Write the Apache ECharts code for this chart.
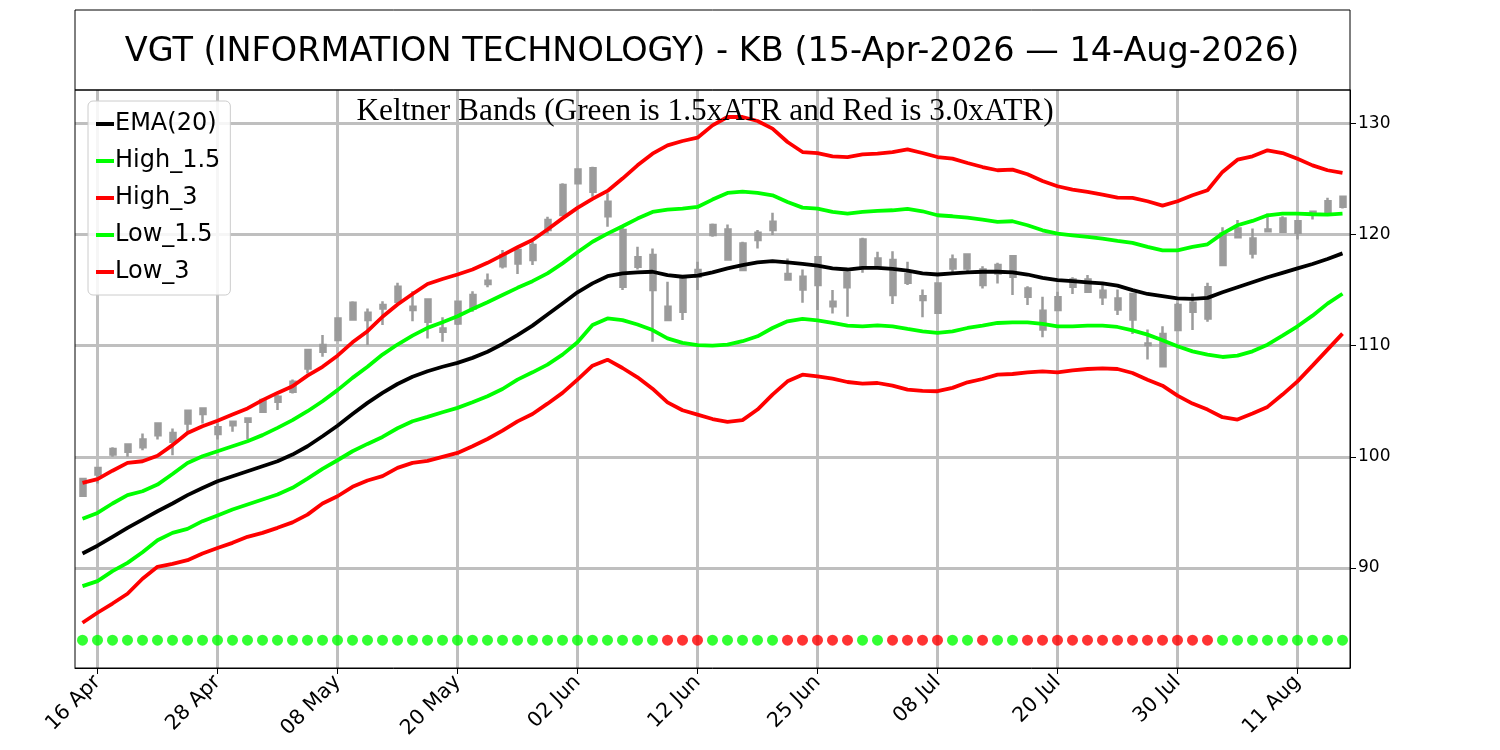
<!DOCTYPE html>
<html>
<head>
<meta charset="utf-8">
<title>VGT Keltner Bands</title>
<script src="https://cdn.jsdelivr.net/npm/echarts@6/dist/echarts.min.js"></script>
<style>
  html, body { margin: 0; padding: 0; background: #fff; }
  #chart { width: 1500px; height: 750px; }
</style>
</head>
<body>
<div id="chart"></div>
<script>
// trading days 15-Apr-2026 .. 14-Aug-2026
const categories = [
  "15 Apr", "16 Apr", "17 Apr", "20 Apr", "21 Apr", "22 Apr", "23 Apr", "24 Apr", "27 Apr", "28 Apr", "29 Apr", "30 Apr",
  "01 May", "04 May", "05 May", "06 May", "07 May", "08 May", "11 May", "12 May", "13 May", "14 May", "15 May", "18 May",
  "19 May", "20 May", "21 May", "22 May", "26 May", "27 May", "28 May", "29 May",
  "01 Jun", "02 Jun", "03 Jun", "04 Jun", "05 Jun", "08 Jun", "09 Jun", "10 Jun", "11 Jun", "12 Jun", "15 Jun", "16 Jun",
  "17 Jun", "18 Jun", "22 Jun", "23 Jun", "24 Jun", "25 Jun", "26 Jun", "29 Jun", "30 Jun",
  "01 Jul", "02 Jul", "06 Jul", "07 Jul", "08 Jul", "09 Jul", "10 Jul", "13 Jul", "14 Jul", "15 Jul", "16 Jul", "17 Jul",
  "20 Jul", "21 Jul", "22 Jul", "23 Jul", "24 Jul", "27 Jul", "28 Jul", "29 Jul", "30 Jul", "31 Jul",
  "03 Aug", "04 Aug", "05 Aug", "06 Aug", "07 Aug", "10 Aug", "11 Aug", "12 Aug", "13 Aug", "14 Aug"
];

const opens = [
  96.5, 98.4, 100.2, 100.45, 100.85, 101.95, 102.15, 103.0, 103.85, 102.65,
  102.85, 103.15, 104.05, 104.95, 105.85, 107.95, 109.45, 110.5, 112.35, 112.95,
  113.35, 113.95, 113.5, 114.15, 111.55, 112.0, 113.35, 115.55, 117.15, 117.4,
  117.7, 120.4, 121.75, 124.6, 125.95, 122.95, 120.4, 117.1, 118.15, 113.5,
  113.05, 116.2, 119.95, 120.45, 119.2, 119.5, 120.4, 116.45, 116.2, 115.45,
  113.95, 115.25, 117.1, 117.85, 117.7, 115.65, 114.45, 112.95, 116.95, 116.95,
  116.85, 116.5, 118.05, 115.15, 113.15, 113.2, 115.3, 115.95, 114.95, 114.25,
  114.65, 110.2, 111.05, 111.4, 113.05, 115.25, 117.25, 119.75, 119.65, 120.3,
  120.25, 121.2, 121.9, 121.9, 122.5
];
const closes = [
  98.0, 99.0, 100.7, 101.1, 101.55, 103.0, 101.35, 104.15, 104.35, 102.05,
  103.15, 103.45, 105.1, 105.4, 106.75, 109.6, 110.05, 112.45, 113.85, 112.3,
  113.65, 115.3, 113.2, 112.15, 111.25, 113.95, 114.55, 115.85, 118.15, 118.6,
  119.05, 121.3, 124.45, 125.85, 123.85, 121.65, 115.3, 117.95, 115.0, 112.3,
  116.2, 116.8, 120.85, 117.75, 116.8, 120.15, 121.15, 115.95, 115.05, 117.95,
  113.55, 116.55, 119.55, 117.15, 114.55, 116.45, 114.1, 115.6, 117.75, 118.2,
  115.45, 117.25, 116.2, 114.4, 111.45, 114.35, 115.95, 114.85, 114.35, 113.25,
  112.35, 110.05, 108.15, 113.65, 113.85, 112.45, 120.1, 120.55, 118.3, 120.45,
  121.45, 120.15, 122.05, 123.0, 123.4
];
const lows = [
  96.4, 97.6, 100.0, 100.0, 100.6, 101.55, 100.15, 102.15, 103.0, 101.55,
  102.25, 101.55, 104.05, 104.2, 105.7, 107.5, 109.0, 110.5, 112.3, 110.05,
  111.85, 113.7, 112.2, 110.65, 110.35, 111.85, 113.05, 115.25, 116.95, 116.45,
  117.25, 120.1, 121.75, 124.6, 123.4, 120.7, 115.0, 116.85, 110.35, 112.3,
  112.3, 115.0, 119.8, 117.75, 116.8, 118.75, 119.95, 115.9, 113.85, 113.2,
  112.9, 112.6, 116.55, 116.95, 113.75, 115.45, 112.55, 112.95, 116.45, 116.5,
  115.15, 115.6, 114.55, 113.65, 110.75, 113.15, 114.65, 114.75, 113.65, 112.75,
  111.05, 108.75, 108.15, 111.4, 111.4, 112.15, 117.25, 119.75, 117.85, 120.25,
  120.25, 119.55, 121.35, 121.9, 122.35
];
const highs = [
  98.1, 99.1, 100.85, 101.1, 102.1, 103.0, 102.55, 104.15, 104.35, 103.0,
  103.15, 103.45, 105.1, 105.55, 106.95, 109.6, 110.95, 112.45, 114.0, 113.35,
  114.0, 115.65, 114.9, 114.15, 112.55, 113.95, 114.9, 116.5, 118.6, 118.75,
  119.35, 121.6, 124.6, 125.85, 126.1, 123.7, 120.75, 118.9, 118.75, 115.75,
  116.2, 117.55, 121.0, 120.9, 119.35, 120.4, 121.95, 117.85, 116.85, 118.0,
  115.0, 116.55, 119.7, 118.45, 118.5, 117.55, 115.05, 115.6, 118.2, 118.3,
  117.15, 117.45, 118.15, 115.35, 114.4, 114.85, 116.15, 116.35, 115.6, 115.05,
  114.65, 111.45, 111.75, 113.85, 114.7, 115.65, 120.65, 121.3, 120.55, 121.9,
  121.65, 121.2, 122.05, 123.3, 123.45
];

const ema20 = [
  91.3, 92.0, 92.8, 93.6, 94.35, 95.1, 95.8, 96.55, 97.2, 97.8,
  98.25, 98.7, 99.15, 99.6, 100.2, 100.95, 101.85, 102.8, 103.85, 104.85,
  105.75, 106.55, 107.2, 107.7, 108.1, 108.45, 108.9, 109.45, 110.15, 110.95,
  111.8, 112.8, 113.8, 114.8, 115.6, 116.25, 116.5, 116.6, 116.65, 116.35,
  116.2, 116.3, 116.6, 116.95, 117.25, 117.5, 117.6, 117.5, 117.35, 117.2,
  116.95, 116.85, 117.0, 117.0, 116.9, 116.75, 116.5, 116.4, 116.5, 116.6,
  116.65, 116.65, 116.6, 116.4, 116.1, 115.9, 115.8, 115.7, 115.6, 115.4,
  115.0, 114.65, 114.45, 114.25, 114.2, 114.3, 114.8, 115.25, 115.7, 116.15,
  116.55, 116.95, 117.35, 117.8, 118.3
];
const high15 = [
  94.42, 94.95, 95.8, 96.55, 96.9, 97.5, 98.45, 99.45, 100.05, 100.5,
  100.95, 101.4, 101.95, 102.6, 103.3, 104.1, 105.0, 106.0, 107.1, 108.1,
  109.2, 110.1, 110.9, 111.6, 112.1, 112.65, 113.3, 113.9, 114.55, 115.2,
  115.8, 116.5, 117.4, 118.4, 119.35, 120.08, 120.74, 121.43, 122.03, 122.24,
  122.33, 122.48, 123.14, 123.74, 123.86, 123.74, 123.53, 122.93, 122.42, 122.33,
  122.03, 121.88, 122.03, 122.12, 122.18, 122.3, 122.09, 121.73, 121.64, 121.52,
  121.34, 121.13, 121.19, 120.83, 120.38, 120.08, 119.93, 119.78, 119.63, 119.42,
  119.24, 118.88, 118.58, 118.58, 118.88, 119.12, 120.08, 120.83, 121.22, 121.73,
  121.88, 121.88, 121.82, 121.79, 121.88
];
const high3 = [
  97.66, 98.0, 98.75, 99.45, 99.6, 100.1, 101.05, 102.15, 102.75, 103.25,
  103.8, 104.35, 105.1, 105.75, 106.35, 107.3, 108.1, 109.1, 110.3, 111.3,
  112.6, 113.7, 114.65, 115.55, 116.0, 116.4, 116.85, 117.45, 118.15, 118.85,
  119.5, 120.45, 121.45, 122.4, 123.2, 123.92, 125.03, 126.22, 127.27, 128.02,
  128.41, 128.71, 129.82, 130.57, 130.57, 130.21, 129.52, 128.32, 127.42, 127.33,
  127.03, 126.97, 127.21, 127.27, 127.42, 127.66, 127.33, 126.97, 126.82, 126.43,
  126.07, 125.78, 125.84, 125.42, 124.82, 124.34, 124.04, 123.83, 123.59, 123.32,
  123.29, 122.99, 122.6, 122.99, 123.53, 123.98, 125.63, 126.73, 127.03, 127.57,
  127.33, 126.82, 126.22, 125.78, 125.54
];
const low15 = [
  88.37, 88.82, 89.72, 90.46, 91.42, 92.5, 93.16, 93.52, 94.21, 94.72,
  95.26, 95.71, 96.16, 96.61, 97.21, 98.04, 98.91, 99.69, 100.5, 101.16,
  101.79, 102.57, 103.2, 103.59, 104.01, 104.4, 104.91, 105.45, 106.1, 106.94,
  107.6, 108.29, 109.19, 110.3, 111.85, 112.45, 112.3, 111.9, 111.4, 110.65,
  110.25, 110.05, 110.0, 110.09, 110.4, 110.84, 111.59, 112.19, 112.4, 112.28,
  112.04, 111.8, 111.74, 111.83, 111.74, 111.5, 111.29, 111.14, 111.29, 111.59,
  111.8, 112.04, 112.1, 112.1, 111.95, 111.74, 111.74, 111.8, 111.8, 111.68,
  111.38, 110.99, 110.48, 109.94, 109.49, 109.19, 108.98, 109.1, 109.49, 110.09,
  110.9, 111.74, 112.7, 113.78, 114.67
];
const low3 = [
  85.07, 85.97, 86.8, 87.68, 89.03, 90.1, 90.37, 90.7, 91.3, 91.8,
  92.26, 92.8, 93.16, 93.61, 94.1, 94.8, 95.8, 96.45, 97.3, 97.87,
  98.26, 99.0, 99.45, 99.63, 99.99, 100.35, 100.95, 101.6, 102.35, 103.19,
  103.85, 104.78, 105.75, 106.94, 108.2, 108.74, 107.99, 107.15, 106.13, 104.9,
  104.19, 103.8, 103.4, 103.15, 103.3, 104.25, 105.6, 106.79, 107.39, 107.24,
  107.03, 106.73, 106.58, 106.64, 106.4, 106.04, 105.93, 105.9, 106.2, 106.7,
  107.0, 107.39, 107.45, 107.6, 107.69, 107.6, 107.78, 107.9, 107.96, 107.9,
  107.54, 106.94, 106.4, 105.5, 104.79, 104.25, 103.56, 103.35, 103.89, 104.49,
  105.6, 106.79, 108.2, 109.64, 111.08
];

// 1 = squeeze on (red dot), 0 = off (green dot)
const squeeze = [
  0, 0, 0, 0, 0, 0, 0, 0, 0, 0,
  0, 0, 0, 0, 0, 0, 0, 0, 0, 0,
  0, 0, 0, 0, 0, 0, 0, 0, 0, 0,
  0, 0, 0, 0, 0, 0, 0, 0, 0, 1,
  1, 1, 0, 0, 0, 0, 0, 1, 1, 1,
  1, 1, 0, 0, 1, 1, 1, 1, 0, 0,
  1, 0, 0, 1, 1, 1, 1, 1, 1, 1,
  1, 1, 1, 1, 1, 1, 0, 0, 0, 0,
  0, 0, 0, 0, 0
];
const dotLevel = 83.5;

const yTicks = [90, 100, 110, 120, 130];
const yMin = 81;
const yMax = 133;
const labelStep = 8;   // one date label every 8 sessions
const labelStart = 1;  // first label is 16 Apr

const GRAY = "#9b9b9b";
const GRID = "#bfbfbf";
const LIME = "#00ff00";
const RED = "#ff0000";

const isLabelled = (idx) => idx >= labelStart && (idx - labelStart) % labelStep === 0;

const candles = categories.map((c, i) => [opens[i], closes[i], lows[i], highs[i]]);
const dots = categories.map((c, i) => ({
  value: [i, dotLevel],
  itemStyle: { color: squeeze[i] ? RED : LIME }
}));
const vLines = categories.filter((c, i) => isLabelled(i)).map((c) => ({ xAxis: c }));

function bandSeries(name, data, color) {
  return {
    name: name,
    type: "line",
    data: data,
    symbol: "none",
    z: 3,
    lineStyle: { color: color, width: 3.8 },
    itemStyle: { color: color },
    emphasis: { disabled: true }
  };
}

const chart = echarts.init(document.getElementById("chart"));

const option = {
  animation: false,
  backgroundColor: "#ffffff",
  textStyle: { fontFamily: "DejaVu Sans" },
  title: [
    {
      text: "VGT (INFORMATION TECHNOLOGY) - KB (15-Apr-2026 \u2014 14-Aug-2026)",
      left: 712,
      top: 35,
      textAlign: "center",
      padding: 0,
      textStyle: { fontSize: 33.5, fontWeight: "normal", color: "#000", fontFamily: "DejaVu Sans" }
    },
    {
      text: "Keltner Bands (Green is 1.5xATR and Red is 3.0xATR)",
      left: 705,
      top: 96,
      textAlign: "center",
      padding: 0,
      textStyle: { fontSize: 31.3, fontWeight: "normal", color: "#000", fontFamily: "Liberation Serif" }
    }
  ],
  legend: {
    data: ["EMA(20)", "High_1.5", "High_3", "Low_1.5", "Low_3"],
    orient: "vertical",
    left: 88,
    top: 101,
    padding: [11, 10, 11, 8],
    itemGap: 13,
    itemWidth: 18,
    itemHeight: 4,
    icon: "path://M0,0H18V4H0Z",
    backgroundColor: "rgba(255,255,255,0.85)",
    borderColor: "#cccccc",
    borderWidth: 1,
    borderRadius: 5,
    selectedMode: false,
    textStyle: { fontSize: 24, color: "#000", fontFamily: "DejaVu Sans", padding: [0, 0, 0, -4] }
  },
  grid: { left: 75, right: 150, top: 90, bottom: 82, containLabel: false },
  xAxis: {
    type: "category",
    data: categories,
    boundaryGap: true,
    axisLine: { show: true, lineStyle: { color: "#000", width: 1 } },
    axisTick: {
      show: true,
      alignWithLabel: true,
      interval: (idx) => isLabelled(idx),
      length: 6,
      lineStyle: { color: "#000", width: 1 }
    },
    axisLabel: {
      interval: (idx) => isLabelled(idx),
      rotate: 45,
      fontSize: 20.5,
      color: "#000",
      margin: 11,
      fontFamily: "DejaVu Sans"
    },
    splitLine: { show: false }
  },
  yAxis: {
    type: "value",
    position: "right",
    min: yMin,
    max: yMax,
    axisLine: { show: true, lineStyle: { color: "#000", width: 1 } },
    axisTick: { show: true, length: 6, lineStyle: { color: "#000" } },
    axisLabel: {
      fontSize: 17,
      color: "#000",
      margin: 8,
      fontFamily: "DejaVu Sans",
      showMinLabel: false,
      showMaxLabel: false,
      formatter: (v) => (yTicks.indexOf(v) >= 0 ? String(v) : "")
    },
    splitLine: {
      show: true,
      showMinLine: false,
      showMaxLine: false,
      lineStyle: { color: GRID, width: 3 }
    }
  },
  series: [
    {
      name: "Price",
      type: "candlestick",
      data: candles,
      barWidth: 5.5,
      z: 2,
      itemStyle: {
        color: GRAY,
        color0: GRAY,
        borderColor: GRAY,
        borderColor0: GRAY,
        borderWidth: 2.5
      },
      emphasis: { disabled: true },
      markLine: {
        silent: true,
        symbol: ["none", "none"],
        z: 1,
        label: { show: false },
        lineStyle: { color: GRID, width: 3, type: "solid" },
        emphasis: { disabled: true },
        data: vLines
      }
    },
    bandSeries("EMA(20)", ema20, "#000000"),
    bandSeries("High_1.5", high15, LIME),
    bandSeries("High_3", high3, RED),
    bandSeries("Low_1.5", low15, LIME),
    bandSeries("Low_3", low3, RED),
    {
      name: "Squeeze",
      type: "scatter",
      data: dots,
      symbolSize: 11,
      z: 4,
      emphasis: { disabled: true }
    }
  ],
  graphic: [
    {
      type: "rect",
      z: 100,
      silent: true,
      shape: { x: 75, y: 10, width: 1275, height: 80 },
      style: { fill: "none", stroke: "#000", lineWidth: 1 }
    },
    {
      type: "rect",
      z: 100,
      silent: true,
      shape: { x: 75, y: 90, width: 1275, height: 578 },
      style: { fill: "none", stroke: "#000", lineWidth: 1 }
    }
  ]
};

chart.setOption(option);
</script>
</body>
</html>
